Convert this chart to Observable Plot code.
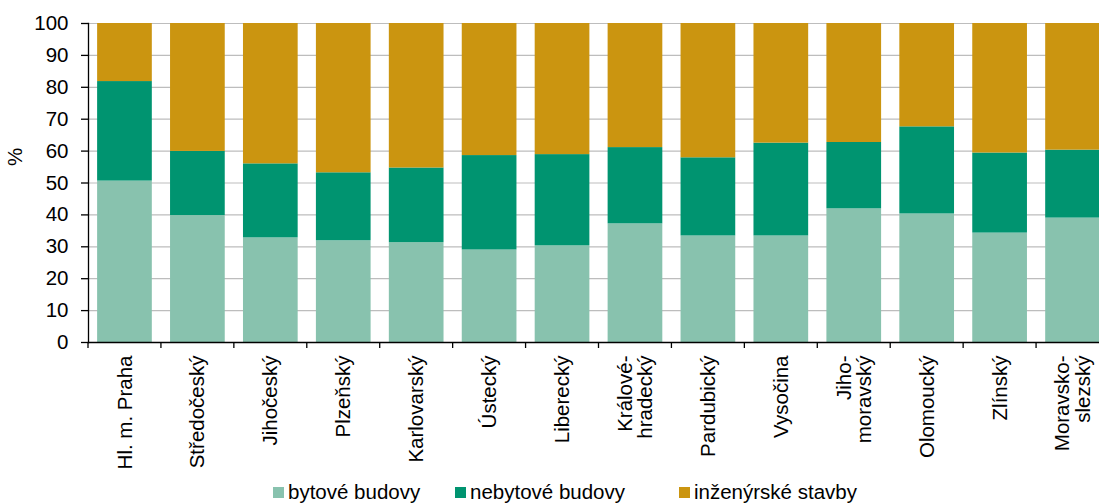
<!DOCTYPE html>
<html>
<head>
<meta charset="utf-8">
<script src="https://cdn.jsdelivr.net/npm/d3@7"></script>
<script src="https://cdn.jsdelivr.net/npm/@observablehq/plot@0.6"></script>
<style>
  html, body { margin: 0; padding: 0; background: #fff; }
  body { width: 1099px; height: 503px; overflow: hidden; font-family: "Liberation Sans", Arial, sans-serif; }
  #legend { position: relative; height: 27px; font-size: 20.5px; color: #000; }
  #legend .item { position: absolute; top: 0; height: 27px; display: flex; align-items: center; gap: 4px; white-space: nowrap; }
  #legend .sw { width: 11px; height: 11px; display: inline-block; margin-top: 1px; }
</style>
</head>
<body>
<div id="chart"></div>
<div id="legend"></div>
<script>
const regions = ["Hl. m. Praha","Středočeský","Jihočeský","Plzeňský","Karlovarský","Ústecký","Liberecký","Králové-\nhradecký","Pardubický","Vysočina","Jiho-\nmoravský","Olomoucký","Zlínský","Moravsko-\nslezský"];
const series = ["bytové budovy","nebytové budovy","inženýrské stavby"];
const colors = ["#88c2ae","#009470","#cb9510"];
const bytove   = [50.6, 39.8, 32.8, 31.9, 31.3, 29.0, 30.3, 37.2, 33.4, 33.4, 41.9, 40.3, 34.3, 39.0];
const nebytove = [31.2, 20.1, 23.2, 21.3, 23.4, 29.6, 28.6, 23.9, 24.5, 29.1, 20.8, 27.3, 25.1, 21.3];
const inzenyrske = bytove.map((b, i) => +(100 - b - nebytove[i]).toFixed(1));
const yTicks = [0,10,20,30,40,50,60,70,80,90,100];

const rows = [];
regions.forEach((r, i) => {
  rows.push({region: r, series: series[0], value: bytove[i]});
  rows.push({region: r, series: series[1], value: nebytove[i]});
  rows.push({region: r, series: series[2], value: inzenyrske[i]});
});

const W = 1099, H = 478;
const boundaryTicks = (index, scales, values, dimensions) => {
  const xs = scales.x;
  const step = xs(regions[1]) - xs(regions[0]);
  const bw = xs.bandwidth ? xs.bandwidth() : step * 0.75;
  const y0 = dimensions.height - dimensions.marginBottom;
  const g = d3.create("svg:g");
  regions.forEach(r => {
    const bx = xs(r) - (step - bw) / 2;
    g.append("line").attr("x1", bx).attr("x2", bx).attr("y1", y0).attr("y2", y0 + 6)
      .attr("stroke", "#000").attr("stroke-width", 1.3);
  });
  return g.node();
};

const chart = Plot.plot({
  width: W,
  height: H,
  marginLeft: 88,
  marginTop: 23,
  marginBottom: 136,
  marginRight: 0,
  style: {fontFamily: "'Liberation Sans', Arial, sans-serif", fontSize: "20px", color: "#000", background: "#fff", overflow: "hidden"},
  x: {domain: regions, range: [88, 1109], paddingInner: 0.25, paddingOuter: 0.125, round: false, axis: null},
  y: {domain: [0, 100], axis: null},
  color: {domain: series, range: colors},
  marks: [
    Plot.gridY(yTicks, {stroke: "#bdbdbd", strokeOpacity: 1, strokeWidth: 1.2}),
    Plot.barY(rows, Plot.stackY({x: "region", y: "value", fill: "series", order: null})),
    Plot.axisY(yTicks, {tickSize: 7, tickPadding: 13, fontSize: 20.5, label: null, stroke: "#000", strokeWidth: 1.3}),
    Plot.frame({anchor: "left", stroke: "#000", strokeWidth: 1.3}),
    Plot.frame({anchor: "bottom", stroke: "#000", strokeWidth: 1.3}),
    boundaryTicks,
    Plot.text(regions, {x: d => d, text: d => d, frameAnchor: "bottom", rotate: -90, textAnchor: "end", lineAnchor: "middle", dy: 13, fontSize: 20.5, fill: "#000"}),
    Plot.text(["%"], {text: d => d, frameAnchor: "left", rotate: -90, dx: -73, dy: -17, fontSize: 20.5, fill: "#000"})
  ]
});
document.getElementById("chart").appendChild(chart);

const legendLeft = [273, 455, 679];
const legend = document.getElementById("legend");
series.forEach((s, i) => {
  const it = document.createElement("span");
  it.className = "item";
  it.style.left = legendLeft[i] + "px";
  const sw = document.createElement("span");
  sw.className = "sw";
  sw.style.background = colors[i];
  const tx = document.createElement("span");
  tx.textContent = s;
  it.appendChild(sw); it.appendChild(tx);
  legend.appendChild(it);
});
</script>
</body>
</html>
